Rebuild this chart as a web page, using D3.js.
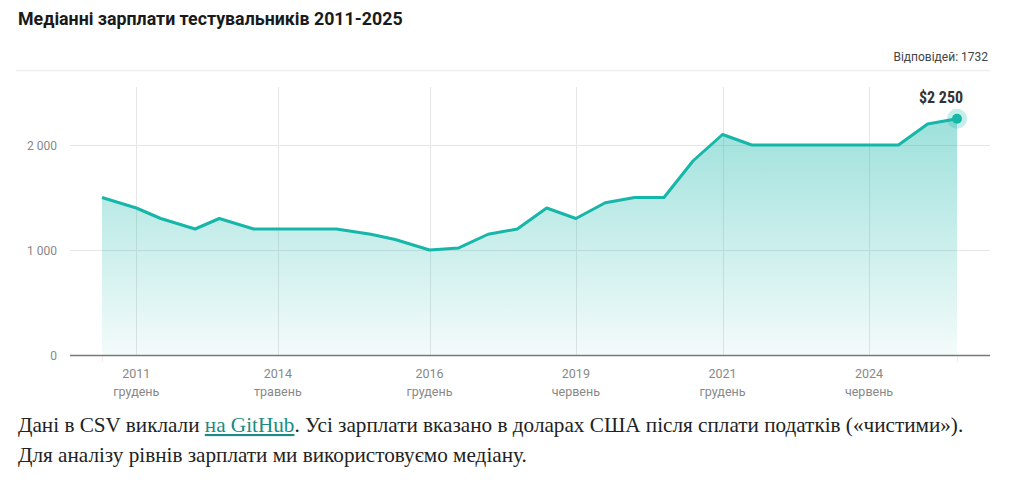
<!DOCTYPE html>
<html><head><meta charset="utf-8">
<script src="https://cdn.jsdelivr.net/npm/d3@7/dist/d3.min.js"></script>
<style>
html,body{margin:0;padding:0;background:#fff;}
svg{display:block;}
</style></head>
<body>
<svg id="chart" width="1024" height="489"></svg>
<script>
const periods = ["2011-05","2011-12","2012-05","2012-12","2013-05","2013-12","2014-05","2014-12","2015-05","2015-12",
  "2016-05","2016-12","2017-06","2017-12","2018-06","2018-12","2019-06","2019-12","2020-06","2020-12",
  "2021-06","2021-12","2022-06","2022-12","2023-06","2023-12","2024-06","2024-12","2025-06","2025-12"];
const salaries = [1500,1400,1300,1200,1300,1200,1200,1200,1200,1150,
  1100,1000,1020,1150,1200,1400,1300,1450,1500,1500,
  1850,2100,2000,2000,2000,2000,2000,2000,2200,2250];
const tickPeriods = ["2011-12","2014-05","2016-12","2019-06","2021-12","2024-06"];
const tickYears = ["2011","2014","2016","2019","2021","2024"];
const tickMonths = ["грудень","травень","грудень","червень","грудень","червень"];
const yTicks = [0,1000,2000];
const responses = 1732;

const svg = d3.select("#chart");
const teal = "#16b6a9";
const parse = d3.utcParse("%Y-%m");
const data = periods.map((p,i)=>({d: parse(p), v: salaries[i]}));

const x = d3.scaleUtc().domain(d3.extent(data, d=>d.d)).range([102,957]);
const y = d3.scaleLinear().domain([0,2000]).range([355,145]);

const defs = svg.append("defs");
const grad = defs.append("linearGradient").attr("id","g")
  .attr("gradientUnits","userSpaceOnUse").attr("x1",0).attr("x2",0).attr("y1",y(2250)).attr("y2",y(0));
grad.append("stop").attr("offset","0%").attr("stop-color",teal).attr("stop-opacity",0.42);
grad.append("stop").attr("offset","100%").attr("stop-color",teal).attr("stop-opacity",0.05);

// title
svg.append("text").attr("x",18).attr("y",25).attr("font-family","Roboto").attr("font-weight","bold")
  .attr("font-size",17.8).attr("fill","#1a1a1a").text("Медіанні зарплати тестувальників 2011-2025");
svg.append("text").attr("x",988).attr("y",61).attr("text-anchor","end").attr("font-family","Roboto")
  .attr("font-size",12).attr("fill","#444").text("Відповідей: " + responses);
svg.append("line").attr("x1",16).attr("x2",990).attr("y1",70.5).attr("y2",70.5).attr("stroke","#eee").attr("stroke-width",1.5);

// horizontal grid
svg.append("g").selectAll("line").data(yTicks.filter(d=>d>0)).join("line")
  .attr("x1",70).attr("x2",990).attr("y1",d=>Math.round(y(d))+0.5).attr("y2",d=>Math.round(y(d))+0.5)
  .attr("stroke","#e6e6e6").attr("stroke-width",1);
// vertical grid
const tickDates = tickPeriods.map(parse);
svg.append("g").selectAll("line").data(tickDates).join("line")
  .attr("x1",d=>Math.round(x(d))+0.5).attr("x2",d=>Math.round(x(d))+0.5)
  .attr("y1",87).attr("y2",355).attr("stroke","#e6e6e6").attr("stroke-width",1);

// area & line
const area = d3.area().x(d=>x(d.d)).y0(y(0)).y1(d=>y(d.v));
svg.append("path").datum(data).attr("d",area).attr("fill","url(#g)");
const line = d3.line().x(d=>x(d.d)).y(d=>y(d.v));
svg.append("path").datum(data).attr("d",line).attr("fill","none").attr("stroke",teal).attr("stroke-width",3).attr("stroke-linejoin","round");

// edge ticks
[data[0].d, data[data.length-1].d].forEach(d=>{
  svg.append("line").attr("x1",Math.round(x(d))+0.5).attr("x2",Math.round(x(d))+0.5).attr("y1",355).attr("y2",362)
    .attr("stroke","#eee").attr("stroke-width",1);
});

// y axis labels
svg.append("g").selectAll("text").data(yTicks).join("text")
  .attr("x",57).attr("y",d=>y(d)+4.5).attr("text-anchor","end").attr("font-family","Roboto")
  .attr("font-size",12).attr("fill","#888").text(d=>d3.format(",")(d).replace(/,/g," "));

// x axis line
svg.append("line").attr("x1",70).attr("x2",990).attr("y1",355.5).attr("y2",355.5).attr("stroke","#777").attr("stroke-width",1.5);

// x tick labels
const xl = svg.append("g").selectAll("text").data(tickDates).join("text")
  .attr("text-anchor","middle").attr("font-family","Roboto").attr("font-size",12.5).attr("fill","#888");
xl.append("tspan").attr("x",d=>x(d)).attr("y",378).text((d,k)=>tickYears[k]);
xl.append("tspan").attr("x",d=>x(d)).attr("y",396).text((d,k)=>tickMonths[k]);

// last marker
const last = data[data.length-1];
svg.append("circle").attr("cx",x(last.d)).attr("cy",y(last.v)).attr("r",10).attr("fill",teal).attr("opacity",0.25);
svg.append("circle").attr("cx",x(last.d)).attr("cy",y(last.v)).attr("r",5).attr("fill",teal);
svg.append("text").attr("x",x(last.d)-16).attr("y",y(last.v)-16).attr("text-anchor","middle")
  .attr("font-family","Roboto Condensed, Roboto").attr("font-weight","bold").attr("font-size",16).attr("fill","#333")
  .text("$" + d3.format(",")(last.v).replace(/,/g," "));

// footer
const f1 = svg.append("text").attr("x",18).attr("y",432).attr("font-family","Liberation Serif, serif").attr("font-size",21.2).attr("fill","#222");
f1.append("tspan").text("Дані в CSV виклали ");
f1.append("tspan").attr("fill","#1a8c82").attr("text-decoration","underline").text("на GitHub");
f1.append("tspan").text(". Усі зарплати вказано в доларах США після сплати податків («чистими»).");
svg.append("text").attr("x",18).attr("y",462).attr("font-family","Liberation Serif, serif").attr("font-size",21.2).attr("fill","#222")
  .text("Для аналізу рівнів зарплати ми використовуємо медіану.");
</script>
</body></html>
